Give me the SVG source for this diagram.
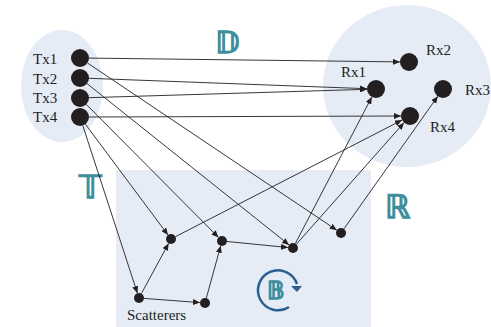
<svg xmlns="http://www.w3.org/2000/svg" width="491" height="327" viewBox="0 0 491 327">
<style>
.zone{fill:#e5ecf6;stroke:none}
.node{fill:#231f20}
.lbl{font-family:"Liberation Serif",serif;font-size:15px;fill:#231f20}
.sym{font-family:"DejaVu Sans",sans-serif;fill:#3d8f9b;stroke:#3d8f9b;stroke-width:1.3}
.con{stroke:#231f20;stroke-width:0.9;fill:none;marker-end:url(#ah)}
</style>
<defs>
<marker id="ah" markerUnits="userSpaceOnUse" markerWidth="7" markerHeight="6" refX="7" refY="3" orient="auto">
<path d="M0,0 L7,3 L0,6 z" fill="#231f20"/>
</marker>
</defs>
<rect x="0" y="0" width="491" height="327" fill="#ffffff"/>
<g id="zones">
<ellipse class="zone" cx="62" cy="86" rx="41" ry="56"/>
<ellipse class="zone" cx="407" cy="86" rx="84" ry="81"/>
<rect class="zone" x="116" y="170" width="255" height="157"/>
</g>
<g id="symbols">
<text class="sym" x="215" y="53" font-size="30">𝔻</text>
<text class="sym" x="79" y="198" font-size="32">𝕋</text>
<text class="sym" x="385" y="218" font-size="32">ℝ</text>
<g id="B">
<path d="M289,307 A20,20 0 1 1 297,284" fill="none" stroke="#2c5f8f" stroke-width="2.5"/>
<polygon points="291,286 302,286 297,292" fill="#2c5f8f"/>
<text class="sym" x="267" y="299" font-size="24">𝔹</text>
</g>
</g>
<g id="connectors">
<path class="con" d="M89,58.1 L400,61.9"/>
<path class="con" d="M87.5,63 L336.8,230.2"/>
<path class="con" d="M89,78.3 L367,88.7"/>
<path class="con" d="M87,83.6 L289.1,244.9"/>
<path class="con" d="M89,97.7 L367,89.3"/>
<path class="con" d="M86.3,104.4 L218.5,237.4"/>
<path class="con" d="M89,117 L401,116"/>
<path class="con" d="M85.4,124.2 L168,235"/>
<path class="con" d="M82.8,125.6 L137.4,293.2"/>
<path class="con" d="M141.4,293.6 L168.6,243.4"/>
<path class="con" d="M144,298.4 L200,302.6"/>
<path class="con" d="M206.3,298.2 L220.7,245.8"/>
<path class="con" d="M227,241.5 L288,247.5"/>
<path class="con" d="M175.4,236.7 L402,120.1"/>
<path class="con" d="M295.3,243.6 L371.8,97"/>
<path class="con" d="M296.3,244.3 L404,122.7"/>
<path class="con" d="M343.9,228.9 L437.8,96.3"/>
</g>
<g id="Tx1"><circle class="node" cx="80" cy="58" r="9"/><text class="lbl" x="33" y="64">Tx1</text></g>
<g id="Tx2"><circle class="node" cx="80" cy="78" r="9"/><text class="lbl" x="33" y="84">Tx2</text></g>
<g id="Tx3"><circle class="node" cx="80" cy="98" r="9"/><text class="lbl" x="33" y="103">Tx3</text></g>
<g id="Tx4"><circle class="node" cx="80" cy="117" r="9"/><text class="lbl" x="33" y="122">Tx4</text></g>
<g id="Rx1"><circle class="node" cx="376" cy="89" r="9"/><text class="lbl" x="341" y="77">Rx1</text></g>
<g id="Rx2"><circle class="node" cx="409" cy="62" r="9"/><text class="lbl" x="426" y="55">Rx2</text></g>
<g id="Rx3"><circle class="node" cx="443" cy="89" r="9"/><text class="lbl" x="465" y="95">Rx3</text></g>
<g id="Rx4"><circle class="node" cx="410" cy="116" r="9"/><text class="lbl" x="430" y="132">Rx4</text></g>
<g id="S1"><circle class="node" cx="171" cy="239" r="5"/></g>
<g id="S2"><circle class="node" cx="139" cy="298" r="5"/></g>
<g id="S3"><circle class="node" cx="205" cy="303" r="5"/></g>
<g id="S4"><circle class="node" cx="222" cy="241" r="5"/></g>
<g id="S5"><circle class="node" cx="293" cy="248" r="5"/></g>
<g id="S6"><circle class="node" cx="341" cy="233" r="5"/></g>
<g id="scatterers-label"><text class="lbl" x="127" y="320">Scatterers</text></g>
</svg>
